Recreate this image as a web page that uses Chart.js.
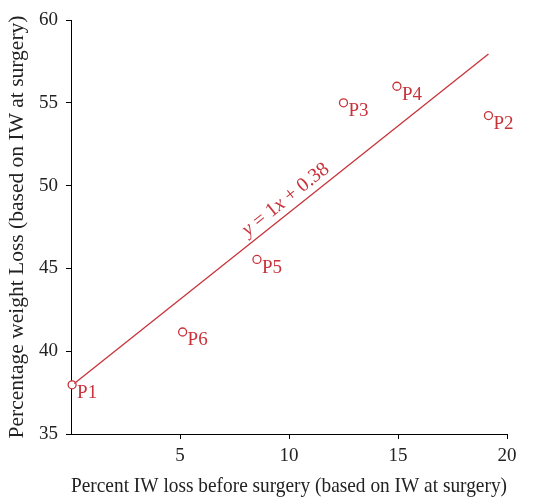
<!DOCTYPE html>
<html>
<head>
<meta charset="utf-8">
<script src="https://cdn.jsdelivr.net/npm/chart.js@4.4.1/dist/chart.umd.min.js"></script>
<style>
  html, body { margin: 0; padding: 0; background: #fff; }
  #wrap { width: 546px; height: 500px; }
</style>
</head>
<body>
<div id="wrap"><canvas id="chart" width="546" height="500"></canvas></div>
<script>
// values
const pointNames = ["P1", "P2", "P3", "P4", "P5", "P6"];
const xValues = [0.05, 19.15, 12.5, 14.95, 8.53, 5.12];
const yValues = [37.97, 54.23, 55.0, 56.0, 45.54, 41.16];
const fitX = [0.15, 19.15];
const fitY = [38.05, 57.95];
const xTicks = [5, 10, 15, 20];
const yTicks = [35, 40, 45, 50, 55, 60];

const RED = "#c8323a";
const SERIF = "'Liberation Serif', 'DejaVu Serif', serif";

const pointLabels = {
    id: "pointLabels",
    afterDatasetsDraw(chart) {
        const ctx = chart.ctx;
        const xs = chart.scales.x, ys = chart.scales.y;
        ctx.save();
        ctx.fillStyle = RED;
        ctx.font = "19px " + SERIF;
        ctx.textAlign = "left";
        ctx.textBaseline = "top";
        pointNames.forEach((name, i) => {
            const px = xs.getPixelForValue(xValues[i]);
            const py = ys.getPixelForValue(yValues[i]);
            ctx.fillText(name, px + 5, py - 1);
        });

        // equation along the fit line
        const x0 = xs.getPixelForValue(fitX[0]), y0 = ys.getPixelForValue(fitY[0]);
        const x1 = xs.getPixelForValue(fitX[1]), y1 = ys.getPixelForValue(fitY[1]);
        const ang = Math.atan2(y1 - y0, x1 - x0);
        const t = (10.2 - fitX[0]) / (fitX[1] - fitX[0]);
        const cx = x0 + (x1 - x0) * t, cy = y0 + (y1 - y0) * t;
        const parts = [["y", true], [" = 1", false], ["x", true], [" + 0.38", false]];
        const fonts = parts.map(p => (p[1] ? "italic " : "") + "20px " + SERIF);
        let total = 0;
        const widths = parts.map((p, i) => { ctx.font = fonts[i]; const w = ctx.measureText(p[0]).width; total += w; return w; });
        ctx.translate(cx, cy);
        ctx.rotate(ang);
        ctx.textBaseline = "alphabetic";
        let off = -total / 2;
        parts.forEach((p, i) => {
            ctx.font = fonts[i];
            ctx.fillText(p[0], off, -7);
            off += widths[i];
        });
        ctx.restore();
    }
};

new Chart(document.getElementById("chart"), {
    type: "scatter",
    data: {
        datasets: [
            {
                label: "fit",
                type: "line",
                data: fitX.map((x, i) => ({x, y: fitY[i]})),
                borderColor: RED,
                borderWidth: 1.3,
                pointRadius: 0,
                fill: false,
                clip: false,
            },
            {
                label: "patients",
                data: xValues.map((x, i) => ({x, y: yValues[i]})),
                pointStyle: "circle",
                pointRadius: 4,
                pointBorderWidth: 1.3,
                pointBorderColor: RED,
                pointBackgroundColor: "#ffffff",
                clip: false,
            },
        ],
    },
    options: {
        responsive: false,
        animation: false,
        events: [],
        layout: {padding: {top: 20, right: 39, left: 0, bottom: 0}},
        plugins: {legend: {display: false}, tooltip: {enabled: false}},
        scales: {
            x: {
                type: "linear",
                min: 0, max: 20,
                afterFit(s) { s.height = 66; },
                afterBuildTicks(s) { s.ticks = xTicks.map(v => ({value: v})); },
                grid: {display: true, drawOnChartArea: false, drawTicks: true, tickLength: 5, color: "#000"},
                border: {display: true, color: "#000", width: 1},
                ticks: {color: "#222", font: {family: SERIF, size: 19}, padding: 6, maxRotation: 0},
                title: {display: true, text: "Percent IW loss before surgery (based on IW at surgery)",
                        color: "#222", font: {family: SERIF, size: 20.6}, padding: {top: 0, bottom: 1}},
            },
            y: {
                type: "linear",
                min: 35, max: 60,
                afterFit(s) { s.width = 71; },
                afterBuildTicks(s) { s.ticks = yTicks.map(v => ({value: v})); },
                grid: {display: true, drawOnChartArea: false, drawTicks: true, tickLength: 5, color: "#000"},
                border: {display: true, color: "#000", width: 1},
                ticks: {color: "#222", font: {family: SERIF, size: 19}, padding: 8},
                title: {display: true, text: "Percentage weight Loss (based on IW at surgery)",
                        color: "#222", font: {family: SERIF, size: 21.5}, padding: {top: 4, bottom: 0}},
            },
        },
    },
    plugins: [pointLabels],
});
</script>
</body>
</html>
